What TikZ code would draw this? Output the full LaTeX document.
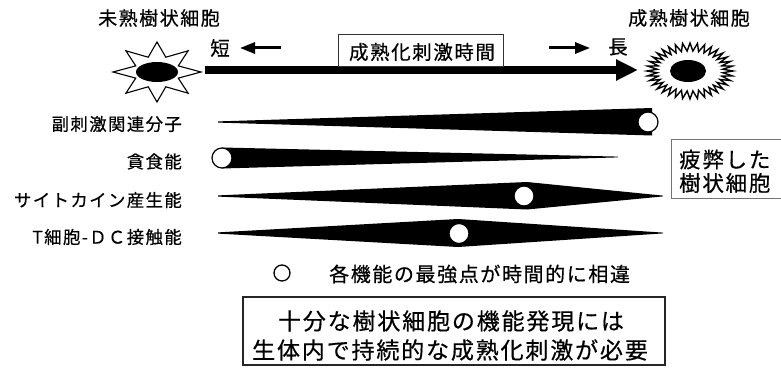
\documentclass[tikz,border=0pt]{standalone}
\usepackage{fontspec}
\newfontfamily\jpfont{Noto Sans CJK JP}[LetterSpace=8, FakeBold=0.5]
\usetikzlibrary{arrows.meta}

\newcommand\jpsize[1]{\fontsize{#1}{#1}\selectfont\jpfont}

\tikzset{
  x=1pt, y=-1pt,
  title/.style={font=\jpsize{19}, inner sep=0},
  rowlabel/.style={font=\jpsize{17.4}, anchor=east, inner sep=0},
  small/.style={font=\jpsize{19.5}, inner sep=0},
  wedge/.style={fill=black, draw=none},
  peak/.style={circle, minimum size=20pt, inner sep=0, fill=white, draw=black, line width=1.2pt},
  cellline/.style={draw=black, fill=white, line width=1.1pt, line join=miter},
  nucleus/.style={fill=black, draw=none},
  timeaxis/.style={line width=8pt, -{Triangle[length=22pt,width=20pt]}},
  hint/.style={line width=3pt, -{Triangle[length=15pt,width=11pt]}},
}

\begin{document}
\begin{tikzpicture}
\clip (0,0) rectangle (781,369);
\fill[white] (0,0) rectangle (781,369);

% cell titles
\node[title] (tImm) at (159,18) {未熟樹状細胞};
\node[title] (tMat) at (689,18) {成熟樹状細胞};

% immature cell: eight-pointed star with a dark nucleus
\begin{scope}[shift={(157,72)}]
  \draw[cellline] (0:44 and 30)
    \foreach \a in {0,45,...,315} { -- ({\a+22.5}:23 and 16) -- ({\a+45}:44 and 30) } -- cycle;
  \fill[nucleus] (0,0) ellipse (21 and 10);
\end{scope}
\coordinate (imm) at (157,72);

% mature cell: many fine spikes
\begin{scope}[shift={(690,71)}]
  \draw[cellline, line width=1.4pt] (0:43 and 28)
    \foreach \a in {0,10,...,350} { -- ({\a+5}:33 and 20) -- ({\a+10}:43 and 28) } -- cycle;
  \fill[nucleus] (-2,0) ellipse (18 and 11);
\end{scope}
\coordinate (mat) at (690,71);

% stimulation time axis
\coordinate (axL) at (205,70);
\coordinate (axR) at (638,70);
\draw[timeaxis] (axL) -- (axR);
\node[draw=black!80, line width=1pt, minimum width=165pt, minimum height=31pt, inner sep=0] (tbox) at (420.5,50.5) {};
\node[small] (tlab) at (422,52) {成熟化刺激時間};

\node[small] (short) at (220,48) {短};
\coordinate (sA) at (281,48);
\coordinate (sB) at (240,48);
\draw[hint] (sA) -- (sB);
\node[small] (long) at (618,47) {長};
\coordinate (lA) at (549,48);
\coordinate (lB) at (590,48);
\draw[hint] (lA) -- (lB);

% function rows
\node[rowlabel] (r1) at (182,124) {副刺激関連分子};
\node[rowlabel] (r2) at (182,161.5) {貪食能};
\node[rowlabel] (r3) at (182,200) {サイトカイン産生能};
\node[rowlabel] (r4) at (182,237) {T細胞-ＤＣ接触能};

% co-stimulatory molecules: rising to the end
\fill[wedge] (218,121.4) -- (652,108) -- (652,135.5) -- (218,122.6) -- cycle;
\node[peak] (p1) at (648,122) {};

% phagocytosis: strongest at the start
\fill[wedge] (222,147.5) -- (618,156.6) -- (618,157.4) -- (222,168.5) -- cycle;
\node[peak] (p2) at (222,158) {};

% cytokine production: peak late
\fill[wedge] (218,195.4) -- (527,182) -- (663,195.6) -- (663,196.4) -- (527,209.5) -- (218,196.6) -- cycle;
\node[peak] (p3) at (524,196) {};

% T cell - DC contact: peak in the middle
\fill[wedge] (218,232.4) -- (458,219) -- (663,232.6) -- (663,233.4) -- (458,247) -- (218,233.6) -- cycle;
\node[peak] (p4) at (459,233.5) {};

% exhausted dendritic cell
\draw[black!55, line width=0.9pt] (671,139) rectangle (800,198);
\node[font=\jpsize{21.5}, anchor=west, inner sep=0] (ex1) at (679,159.5) {疲弊した};
\node[font=\jpsize{21.5}, anchor=west, inner sep=0] (ex2) at (679,183) {樹状細胞};

% legend
\node[circle, draw=black, line width=1.3pt, minimum size=16pt, inner sep=0] (leg) at (282,273) {};
\node[font=\jpsize{20}, anchor=west, inner sep=0] (legtxt) at (329,274) {各機能の最強点が時間的に相違};

% conclusion
\node[draw=black!85, line width=1.4pt, minimum width=422pt, minimum height=68pt, inner sep=0] (need) at (454,331) {};
\node[font=\jpsize{23}, inner sep=0] (need1) at (451,321) {十分な樹状細胞の機能発現には};
\node[font=\jpsize{23}, inner sep=0] (need2) at (450,350) {生体内で持続的な成熟化刺激が必要};
\end{tikzpicture}
\end{document}
